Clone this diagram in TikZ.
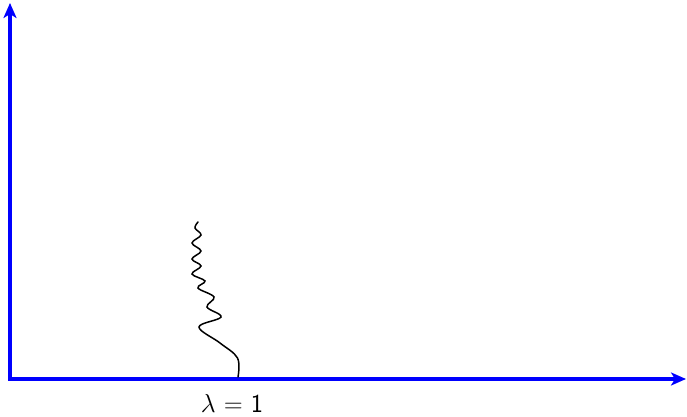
\documentclass[tikz,border=0pt]{standalone}
\usepackage{fix-cm}
\usetikzlibrary{arrows.meta}
\begin{document}
\begin{tikzpicture}[x=1pt,y=1pt,
  axis/.style={draw=blue, line width=4pt, {Stealth[length=15pt,width=13pt,inset=4pt]}-{Stealth[length=15pt,width=13pt,inset=4pt]}},
  wave/.style={draw=black, line width=1.5pt, line cap=round},
  lbl/.style={font=\fontsize{26}{30}\selectfont\sffamily, inner sep=0pt}]
\useasboundingbox (0,0) rectangle (687,417);
\coordinate (ytip) at (10,414);
\coordinate (origin) at (10,38);
\coordinate (xtip) at (686,38);
\coordinate (foot) at (238,38);
\draw[axis] (ytip) -- (origin) -- (xtip);
\draw[wave] plot[smooth, tension=0.6] coordinates {(238,40) (237.5,59) (220,74) (199,90) (221,100) (207,110) (214,120) (198,129) (205,136) (192,143) (201,151) (192,158) (201,166) (192,174) (201,182) (195,189) (198,195)};
\node[lbl] (lambda) at (232,14) {$\lambda$ = 1};
\end{tikzpicture}
\end{document}
